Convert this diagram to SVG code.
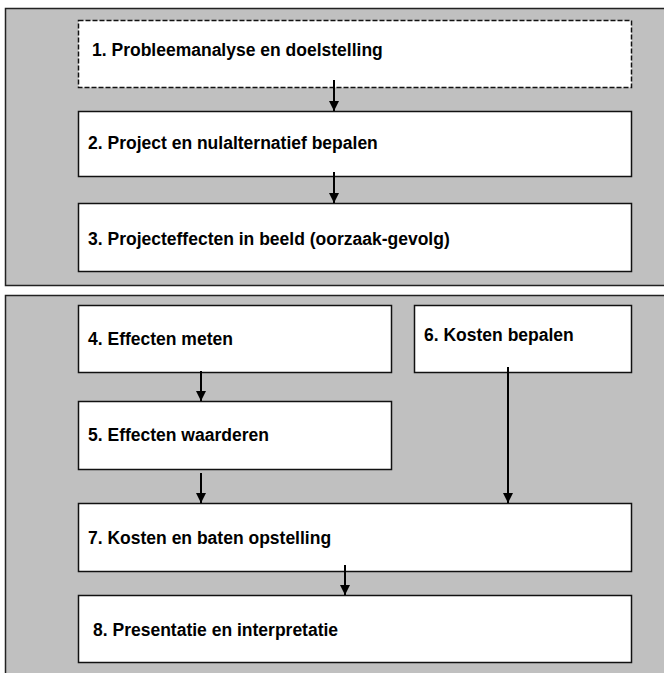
<svg xmlns="http://www.w3.org/2000/svg" width="664" height="673" viewBox="0 0 664 673">
<style>
.panel{fill:#c0c0c0;stroke:#222;stroke-width:1.5}
.box{fill:#fff;stroke:#111;stroke-width:1.5}
.dash{stroke-dasharray:5 2}
.lbl{font-family:"Liberation Sans",Arial,sans-serif;font-weight:bold;font-size:17.5px;fill:#000}
.con{stroke:#000;stroke-width:2;fill:none;marker-end:url(#ah)}
</style>
<defs>
<marker id="ah" markerUnits="userSpaceOnUse" markerWidth="10" markerHeight="11" refX="10" refY="5" orient="auto" viewBox="0 0 10 10">
<path d="M0,0 L10,5 L0,10 Z" fill="#000"/>
</marker>
</defs>
<g id="panel-top"><rect class="panel" x="5.5" y="8.5" width="700" height="277"/></g>
<g id="panel-bottom"><rect class="panel" x="5.5" y="295.5" width="700" height="420"/></g>
<g id="n1"><rect class="box dash" x="78.5" y="20.5" width="553" height="67"/><text class="lbl" x="92" y="56">1. Probleemanalyse en doelstelling</text></g>
<g id="n2"><rect class="box" x="78.5" y="111.5" width="553" height="65"/><text class="lbl" x="88" y="149">2. Project en nulalternatief bepalen</text></g>
<g id="n3"><rect class="box" x="78.5" y="203.5" width="553" height="68"/><text class="lbl" x="88" y="245">3. Projecteffecten in beeld (oorzaak-gevolg)</text></g>
<g id="n4"><rect class="box" x="78.5" y="305.5" width="313" height="67"/><text class="lbl" x="88" y="345">4. Effecten meten</text></g>
<g id="n6"><rect class="box" x="414.5" y="305.5" width="217" height="67"/><text class="lbl" x="424" y="341">6. Kosten bepalen</text></g>
<g id="n5"><rect class="box" x="78.5" y="401.5" width="313" height="68"/><text class="lbl" x="88" y="441">5. Effecten waarderen</text></g>
<g id="n7"><rect class="box" x="78.5" y="503.5" width="553" height="68"/><text class="lbl" x="88" y="544">7. Kosten en baten opstelling</text></g>
<g id="n8"><rect class="box" x="78.5" y="595.5" width="553" height="67"/><text class="lbl" x="93" y="636">8. Presentatie en interpretatie</text></g>
<g id="connectors">
<path class="con" d="M334,80 V111"/>
<path class="con" d="M334,172 V203"/>
<path class="con" d="M201,371 V401"/>
<path class="con" d="M508,367 V503"/>
<path class="con" d="M201,473 V503"/>
<path class="con" d="M345,565 V595"/>
</g>
</svg>
